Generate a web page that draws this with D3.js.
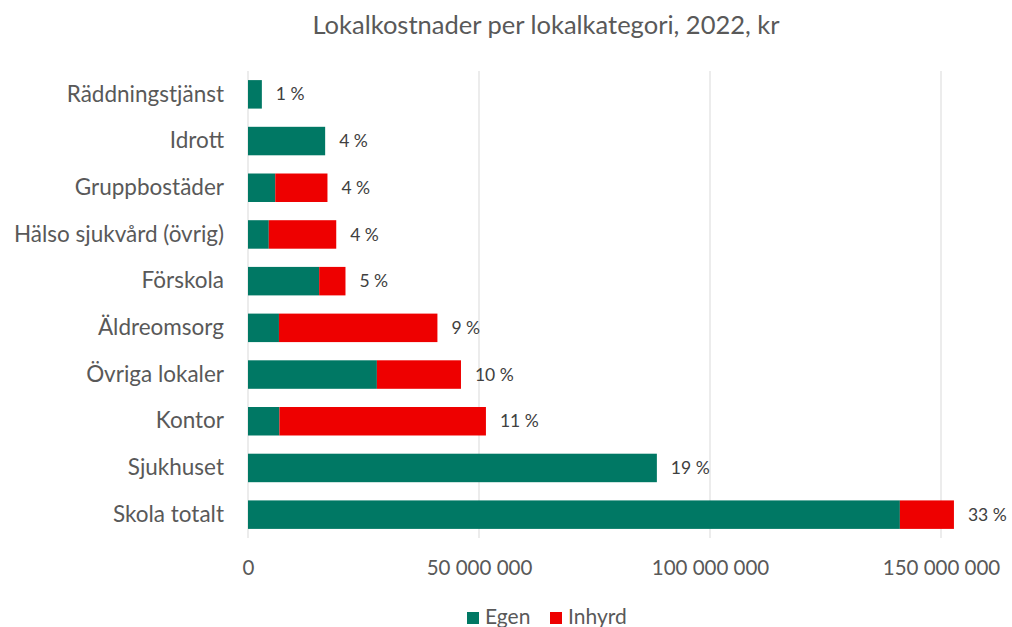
<!DOCTYPE html>
<html>
<head>
<meta charset="utf-8">
<script src="https://cdn.jsdelivr.net/npm/d3@7"></script>
<style>
  body { margin: 0; background: #fff; }
  svg { display: block; font-family: Lato, "Open Sans", sans-serif; }
</style>
</head>
<body>
<svg id="chart"></svg>
<script>
// data (kr)
let categories = ['Räddningstjänst', 'Idrott', 'Gruppbostäder', 'Hälso sjukvård (övrig)', 'Förskola',
                  'Äldreomsorg', 'Övriga lokaler', 'Kontor', 'Sjukhuset', 'Skola totalt']
let egen   = [3.0e6, 16.7e6, 5.9e6, 4.5e6, 15.4e6, 6.7e6, 27.9e6, 6.8e6, 88.5e6, 141.1e6]
let inhyrd = [0, 0, 11.3e6, 14.6e6, 5.7e6, 34.3e6, 18.2e6, 44.7e6, 0, 11.7e6]
let pctLabels = ['1 %', '4 %', '4 %', '4 %', '5 %', '9 %', '10 %', '11 %', '19 %', '33 %']
let xTicks = [0, 50e6, 100e6, 150e6]
let seriesNames = ['Egen', 'Inhyrd']
let colors = ['#007864', '#ee0000']

let width = 1012
let height = 627
let margin = {left: 248, right: 71, top: 71, bottom: 89}

let svg = d3.select('#chart')
            .attr('width', width)
            .attr('height', height)

let rows = categories.map((c, i) => ({cat: c, Egen: egen[i], Inhyrd: inhyrd[i], label: pctLabels[i]}))

let xScale = d3.scaleLinear()
               .domain([0, 150e6])
               .range([margin.left, width - margin.right])

let yScale = d3.scaleBand()
               .domain(categories)
               .range([margin.top, height - margin.bottom])
               .paddingInner(0.39)
               .paddingOuter(0.195)

// title
svg.append('text')
   .attr('x', 546)
   .attr('y', 34)
   .attr('text-anchor', 'middle')
   .attr('fill', '#595959')
   .style('font-size', '25.5px')
   .text('Lokalkostnader per lokalkategori, 2022, kr')

// gridlines
svg.append('g')
   .selectAll('line')
   .data(xTicks)
   .enter()
   .append('line')
   .attr('x1', d => xScale(d))
   .attr('x2', d => xScale(d))
   .attr('y1', margin.top)
   .attr('y2', height - margin.bottom)
   .attr('stroke', '#d9d9d9')
   .attr('stroke-width', 1)

// x axis (labels only)
let xAxis = d3.axisBottom(xScale)
              .tickValues(xTicks)
              .tickSize(0)
              .tickPadding(22)
              .tickFormat(d => d3.format(',')(d).replace(/,/g, ' '))

let gx = svg.append('g')
   .attr('transform', 'translate(0,' + (height - margin.bottom) + ')')
   .call(xAxis)
gx.select('.domain').remove()
gx.selectAll('text')
  .attr('fill', '#595959')
  .style('font-size', '20.5px')
  .style('font-family', 'Lato, "Open Sans", sans-serif')

// y axis
let yAxis = d3.axisLeft(yScale).tickSize(0).tickPadding(24)
let gy = svg.append('g')
   .attr('transform', 'translate(' + margin.left + ',0)')
   .call(yAxis)
gy.select('.domain').remove()
gy.selectAll('text')
  .attr('fill', '#595959')
  .style('font-size', '22.5px')
  .style('font-family', 'Lato, "Open Sans", sans-serif')

// stacked bars
let stack = d3.stack().keys(seriesNames)
let stacked = stack(rows)

svg.append('g')
   .selectAll('g')
   .data(stacked)
   .enter()
   .append('g')
   .attr('fill', (d, i) => colors[i])
   .selectAll('rect')
   .data(d => d.filter(p => p[1] > p[0]))
   .enter()
   .append('rect')
   .attr('x', d => xScale(d[0]))
   .attr('y', d => yScale(d.data.cat))
   .attr('width', d => xScale(d[1]) - xScale(d[0]))
   .attr('height', yScale.bandwidth())

// percentage labels
svg.append('g')
   .selectAll('text')
   .data(rows)
   .enter()
   .append('text')
   .attr('x', d => xScale(d.Egen + d.Inhyrd) + 14)
   .attr('y', d => yScale(d.cat) + yScale.bandwidth() / 2)
   .attr('dy', '0.35em')
   .attr('fill', '#404040')
   .style('font-size', '17.5px')
   .text(d => d.label)

// legend
let legend = svg.append('g')
let legendX = [467, 550]
seriesNames.forEach((name, i) => {
    legend.append('rect')
          .attr('x', legendX[i])
          .attr('y', 612)
          .attr('width', 12)
          .attr('height', 12)
          .attr('fill', colors[i])
    legend.append('text')
          .attr('x', legendX[i] + 18)
          .attr('y', 624)
          .attr('fill', '#595959')
          .style('font-size', '21px')
          .text(name)
})
</script>
</body>
</html>
